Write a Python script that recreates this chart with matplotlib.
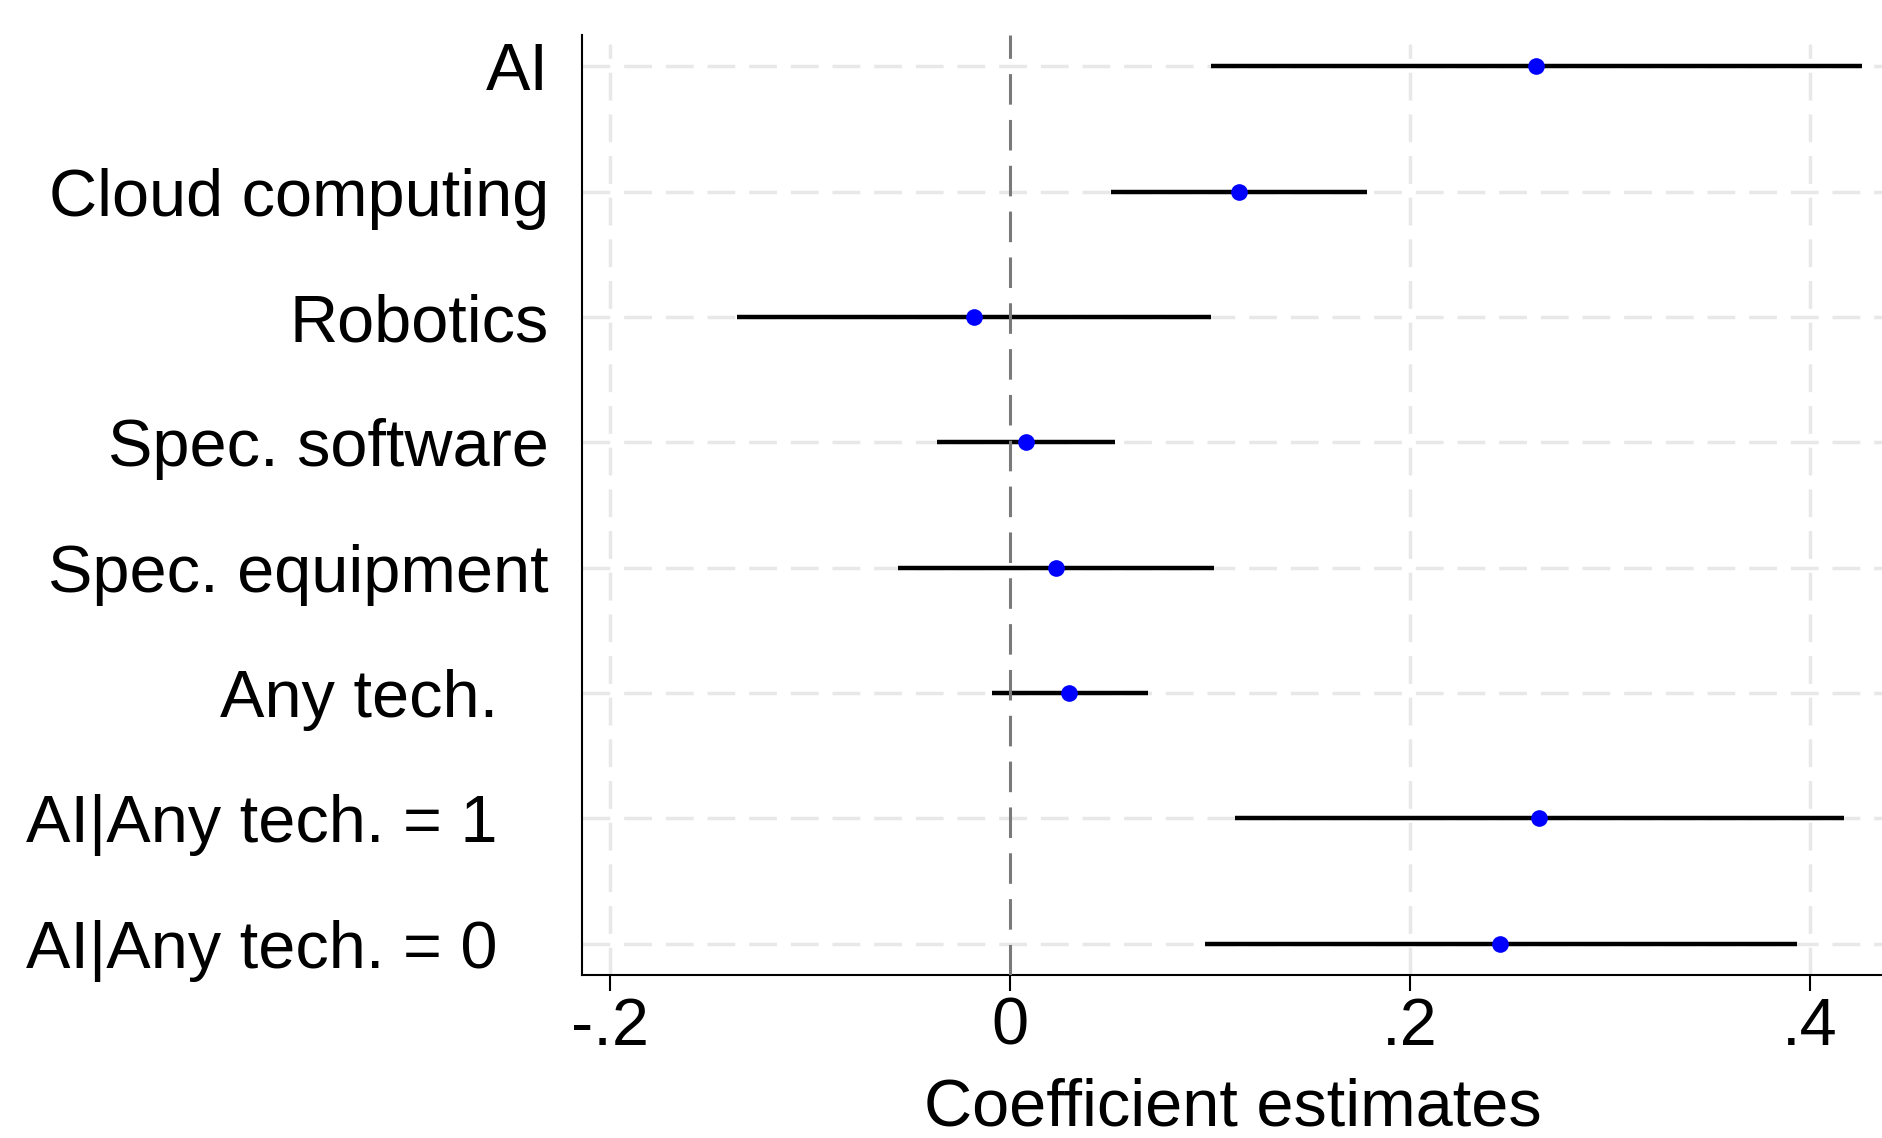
import matplotlib
matplotlib.use("Agg")
import matplotlib.pyplot as plt
import numpy as np

# coefficient plot, rows listed top to bottom
labels = ["AI", "Cloud computing", "Robotics", "Spec. software",
          "Spec. equipment", "Any tech.", "AI|Any tech. = 1", "AI|Any tech. = 0"]
coef = [0.263, 0.1144, -0.0181, 0.0078, 0.0230, 0.0294, 0.2645, 0.2450]
ci_lo = [0.1005, 0.0506, -0.1364, -0.0363, -0.0558, -0.0090, 0.1126, 0.0974]
ci_hi = [0.4260, 0.1784, 0.1005, 0.0525, 0.1022, 0.0691, 0.4168, 0.3936]
xticks = [-0.2, 0, 0.2, 0.4]
xticklabels = ["-.2", "0", ".2", ".4"]

plt.rcParams["font.family"] = ["Liberation Sans", "DejaVu Sans"]

fig = plt.figure(figsize=(18.83, 11.38), dpi=100)
ax = fig.add_axes([582 / 1883, 163 / 1138, 1 - 582 / 1883, 940 / 1138])

n = len(labels)
ypos = np.arange(n, 0, -1)

ax.set_xlim(-0.214, 0.4365)
ax.set_ylim(0.75, n + 0.25)

# light dashed grid
grid_kw = dict(color="#e8e8e8", lw=2.5, dashes=(8, 4), zorder=1)
for y in ypos:
    ax.axhline(y, **grid_kw)
for x in xticks:
    if x != 0:
        ax.axvline(x, ymax=0.99, **grid_kw)

ax.hlines(ypos, ci_lo, ci_hi, color="black", lw=3.2, zorder=3)
ax.axvline(0, color="#7a7a7a", lw=2.2, dashes=(10, 5), zorder=4)
ax.plot(coef, ypos, "o", color="#0000ff", ms=12, mec="none", zorder=5)

ax.set_xticks(xticks)
ax.set_xticklabels(xticklabels, fontsize=48)
ax.tick_params(axis="x", length=11.5, width=1.5, pad=4)
ax.set_yticks([])
ax.set_xlabel("Coefficient estimates", fontsize=48, labelpad=14)

for s in ["top", "right"]:
    ax.spines[s].set_visible(False)
ax.spines["left"].set_linewidth(1.5)
ax.spines["bottom"].set_linewidth(1.5)

# row labels; the last three sit further left, as in the original
for i, (lab, y) in enumerate(zip(labels, ypos)):
    off = -33 if i < 5 else -84
    ax.annotate(lab, xy=(0, y), xycoords=("axes fraction", "data"),
                xytext=(off * 0.72, 0), textcoords="offset points",
                ha="right", va="center_baseline", fontsize=48)

fig.savefig("out.png", dpi=100)
